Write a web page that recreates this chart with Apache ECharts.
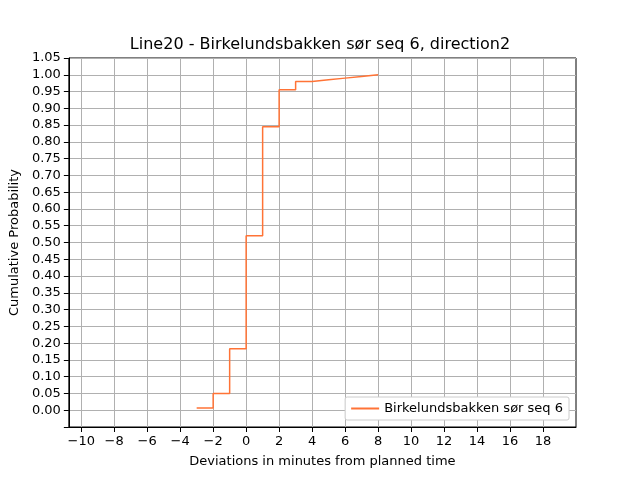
<!DOCTYPE html>
<html>
<head>
<meta charset="utf-8">
<script src="https://cdn.jsdelivr.net/npm/echarts@6/dist/echarts.min.js"></script>
<style>html,body{margin:0;padding:0;background:#fff}#chart{width:640px;height:480px}</style>
</head>
<body>
<div id="chart"></div>
<script>
var titleText = 'Line20 - Birkelundsbakken sør seq 6, direction2';
var seriesName = 'Birkelundsbakken sør seq 6';
var deviations = [-3, -2, -1, 0, 1, 2, 3, 4, 5, 6, 7, 8];
var cumProb = [0.007, 0.05, 0.183, 0.52, 0.845, 0.955, 0.98, 0.985, 0.99, 0.995, 1.0, 1.0];
var xTicks = [-10, -8, -6, -4, -2, 0, 2, 4, 6, 8, 10, 12, 14, 16, 18];

var chart = echarts.init(document.getElementById('chart'));
var font = 'DejaVu Sans';
var option = {
  animation: false,
  title: {
    text: titleText, left: 'center', top: 32,
    textStyle: { fontFamily: font, fontSize: 16, fontWeight: 'normal', color: '#000' }
  },
  grid: { left: 67, right: 64, top: 58, bottom: 53, show: true, borderColor: '#000', borderWidth: 1 },
  legend: {
    right: 71, bottom: 60,
    data: [seriesName],
    itemWidth: 28, itemHeight: 2,
    icon: 'rect',
    backgroundColor: '#fff', borderColor: '#ccc', borderWidth: 1, borderRadius: 2,
    padding: [5, 6],
    textStyle: { fontFamily: font, fontSize: 13, color: '#000' }
  },
  xAxis: {
    type: 'value', min: -10.75, max: 20,
    name: 'Deviations in minutes from planned time',
    nameLocation: 'middle', nameGap: 28,
    nameTextStyle: { fontFamily: font, fontSize: 13, color: '#000' },
    axisLine: { onZero: false, lineStyle: { color: '#000' } },
    axisTick: { show: true, customValues: xTicks, lineStyle: { color: '#000' } },
    axisLabel: { customValues: xTicks, fontFamily: font, fontSize: 13, color: '#000',
      formatter: function (v) { return String(v).replace('-', '\u2212'); } },
    splitLine: { show: true, lineStyle: { color: '#b0b0b0' } }
  },
  yAxis: {
    type: 'value', min: -0.05, max: 1.05, interval: 0.05,
    name: 'Cumulative Probability',
    nameLocation: 'middle', nameGap: 42,
    nameTextStyle: { fontFamily: font, fontSize: 13, color: '#000' },
    axisLine: { show: true, onZero: false, lineStyle: { color: '#000' } },
    axisTick: { show: true, lineStyle: { color: '#000' } },
    axisLabel: { fontFamily: font, fontSize: 13, color: '#000',
      formatter: function (v) { return v < -0.001 ? '' : Math.abs(v).toFixed(2); } },
    splitLine: { show: true, lineStyle: { color: '#b0b0b0' } }
  },
  series: [{
    name: seriesName, type: 'line', step: 'end',
    data: deviations.map(function (d, i) { return [d, cumProb[i]]; }),
    showSymbol: false,
    lineStyle: { color: '#ff7336', width: 1.5 },
    itemStyle: { color: '#ff7336' }
  }]
};
chart.setOption(option);
</script>
</body>
</html>
